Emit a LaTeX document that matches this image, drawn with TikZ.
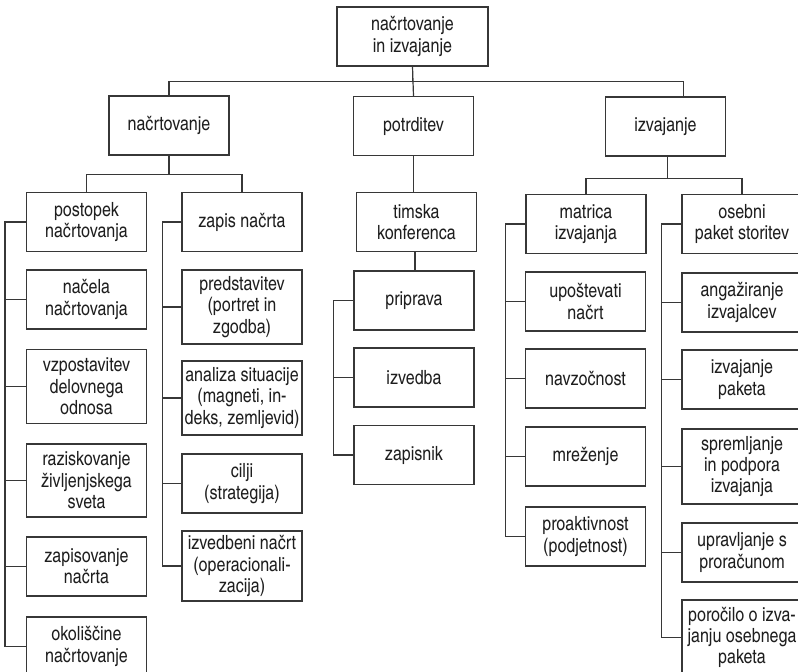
\documentclass[tikz,border=0pt]{standalone}
\usepackage{fontspec}
\setmainfont{texgyreheroscn}[Extension=.otf, UprightFont=*-regular, BoldFont=*-bold]
\definecolor{LineColor}{RGB}{55,55,55}
\definecolor{TextColor}{RGB}{30,30,30}
\usepackage{tikz}
\usetikzlibrary{positioning, calc}

\begin{document}
\begin{tikzpicture}[x=1pt, y=-1pt,
    chartbox/.style={draw=LineColor, line width=1.2pt, fill=white, text=TextColor,
      minimum width=120pt, minimum height=59pt, inner sep=1pt, align=center,
      font=\fontsize{19.6}{21.4}\selectfont},
    tallbox/.style={chartbox, minimum height=74pt},
    link/.style={draw=LineColor, line width=1.2pt}]
  \useasboundingbox (0,0) rectangle (798,672);
  % root and main branches
  \node[chartbox, minimum width=151pt] (root) at (412.5,36.5) {načrtovanje\\in izvajanje};
  \node[chartbox] (plan) at (169,125.5) {načrtovanje};
  \node[chartbox] (confirm) at (413.5,126) {potrditev};
  \node[chartbox] (exec) at (665.5,126.5) {izvajanje};
  \draw[link] (root.south) -- (confirm.north);
  \draw[link] (root.south) -- ++(0,15) -| (plan.north);
  \draw[link] (root.south) -- ++(0,15) -| ([xshift=18pt]exec.north);
  % planning
  \node[chartbox] (process) at (86.5,222) {postopek\\načrtovanja};
  \node[chartbox] (record) at (242,222) {zapis načrta};
  \draw[link] (plan.south) -- ++(0,19) -| (process.north);
  \draw[link] (plan.south) -- ++(0,19) -| (record.north);
  \node[chartbox] (principles) at (86.5,299.5) {načela\\načrtovanja};
  \node[tallbox] (relation) at (86.5,386.5) {vzpostavitev\\delovnega\\odnosa};
  \node[tallbox, minimum height=73pt] (lifeworld) at (86.5,480.5) {raziskovanje\\življenjskega\\sveta};
  \node[chartbox] (writing) at (86.5,566.5) {zapisovanje\\načrta};
  \node[chartbox] (context) at (86.5,646.5) {okoliščine\\načrtovanje};
  \foreach \child in {principles, relation, lifeworld, writing, context}
    \draw[link] (process.west) -- ([xshift=-21pt]process.west) |- (\child.west);
  \node[tallbox] (portrait) at (242,307) {predstavitev\\(portret in\\zgodba)};
  \node[tallbox] (analysis) at (242,398) {analiza situacije\\(magneti, in-\\deks, zemljevid)};
  \node[chartbox] (goals) at (242,483.5) {cilji\\(strategija)};
  \node[tallbox, minimum height=70pt] (operational) at (242,566) {izvedbeni načrt\\(operacionali-\\zacija)};
  \foreach \child in {portrait, analysis, goals, operational}
    \draw[link] (record.west) -- ([xshift=-19pt]record.west) |- (\child.west);
  % confirmation
  \node[chartbox] (team) at (416.5,222) {timska\\konferenca};
  \node[chartbox] (prep) at (414,300.5) {priprava};
  \node[chartbox] (perform) at (414,377.5) {izvedba};
  \node[chartbox] (minutes) at (414,455) {zapisnik};
  \draw[link] (confirm.south) -- (confirm.south |- team.north);
  \draw[link] ([xshift=-1.5pt]team.south) -- ([xshift=-1.5pt]team.south |- prep.north);
  \foreach \child in {perform, minutes}
    \draw[link] (prep.west) -- ([xshift=-20pt]prep.west) |- (\child.west);
  % execution
  \node[chartbox] (matrix) at (586,224) {matrica\\izvajanja};
  \node[chartbox] (package) at (742,224) {osebni\\paket storitev};
  \draw[link] ([xshift=2pt]exec.south) -- ++(0,22) -| (matrix.north);
  \draw[link] ([xshift=2pt]exec.south) -- ++(0,22) -| (package.north);
  \node[chartbox] (follow) at (585.5,301.5) {upoštevati\\načrt};
  \node[chartbox] (presence) at (585.5,378.5) {navzočnost};
  \node[chartbox] (network) at (585.5,456.5) {mreženje};
  \node[chartbox] (proactive) at (585.5,536.5) {proaktivnost\\(podjetnost)};
  \foreach \child in {follow, presence, network, proactive}
    \draw[link] (matrix.west) -- ([xshift=-20pt]matrix.west) |- (\child.west);
  \node[chartbox] (hire) at (742,302.5) {angažiranje\\izvajalcev};
  \node[chartbox] (run) at (742,379.5) {izvajanje\\paketa};
  \node[tallbox, minimum height=75pt] (support) at (742,466.5) {spremljanje\\in podpora\\izvajanja};
  \node[chartbox] (budget) at (742,552.5) {upravljanje s\\proračunom};
  \node[tallbox, minimum height=75pt] (report) at (742,637.5) {poročilo o izva-\\janju osebnega\\paketa};
  \foreach \child in {hire, run, support, budget, report}
    \draw[link] (package.west) -- ([xshift=-20pt]package.west) |- (\child.west);
\end{tikzpicture}
\end{document}
